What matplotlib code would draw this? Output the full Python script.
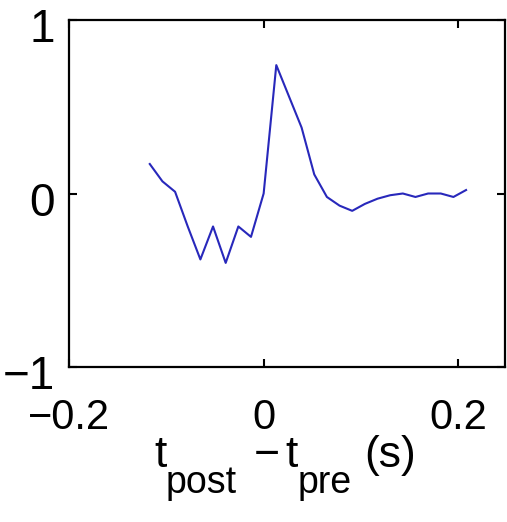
import matplotlib
matplotlib.use("Agg")
import matplotlib.pyplot as plt
import matplotlib.transforms as mtransforms

plt.rcParams['font.family'] = ['Liberation Sans', 'DejaVu Sans']

# lag between post- and pre-synaptic spikes (s) and the measured change
lag = [-0.117, -0.104, -0.091, -0.078, -0.065, -0.052, -0.039, -0.026, -0.013,
       0.000, 0.013, 0.026, 0.039, 0.052, 0.065, 0.078, 0.091, 0.104, 0.117,
       0.130, 0.143, 0.156, 0.169, 0.182, 0.195, 0.208]
change = [0.17, 0.07, 0.01, -0.19, -0.38, -0.19, -0.40, -0.19, -0.25,
          0.00, 0.74, 0.56, 0.38, 0.11, -0.02, -0.07, -0.10, -0.06, -0.03,
          -0.01, 0.00, -0.02, 0.00, 0.00, -0.02, 0.02]

xticks = [-0.2, 0, 0.2]
xtick_labels = ['\u22120.2', '0', '0.2']
yticks = [-1, 0, 1]
ytick_labels = ['\u22121', '0', '1']

W, H = 507, 522
fig = plt.figure(figsize=(W / 100, H / 100), dpi=100)
ax = fig.add_axes([69 / W, 1 - 367 / H, (505 - 69) / W, (367 - 20) / H])

ax.plot(lag, change, color='#2828bb', linewidth=1.5)

ax.set_xlim(-0.2, 0.248)
ax.set_ylim(-1, 1)
ax.set_xticks(xticks)
ax.set_xticklabels(xtick_labels, fontsize=30)
ax.set_yticks(yticks)
ax.set_yticklabels(ytick_labels, fontsize=33)
ax.tick_params(direction='in', length=6, width=1.5, top=True, right=True)
ax.tick_params(axis='x', pad=22)
ax.tick_params(axis='y', pad=10)
# y labels sit a little below their ticks in the original
shift = mtransforms.ScaledTranslation(0, -5 / 100, fig.dpi_scale_trans)
for lbl in ax.get_yticklabels():
    lbl.set_transform(lbl.get_transform() + shift)
for sp in ax.spines.values():
    sp.set_linewidth(1.6)


def px(x, y):
    return x / W, 1 - y / H


# x label: t_post - t_pre (s), with large subscripts
fig.text(*px(154, 467), 't', fontsize=32, ha='left', va='baseline')
fig.text(*px(166, 493), 'post', fontsize=27, ha='left', va='baseline')
fig.text(*px(267, 467), '\u2212', fontsize=32, ha='center', va='baseline')
fig.text(*px(285, 467), 't', fontsize=32, ha='left', va='baseline')
fig.text(*px(298, 493), 'pre', fontsize=27, ha='left', va='baseline')
fig.text(*px(364, 467), '(s)', fontsize=32, ha='left', va='baseline')

fig.savefig('out.png', dpi=100)
